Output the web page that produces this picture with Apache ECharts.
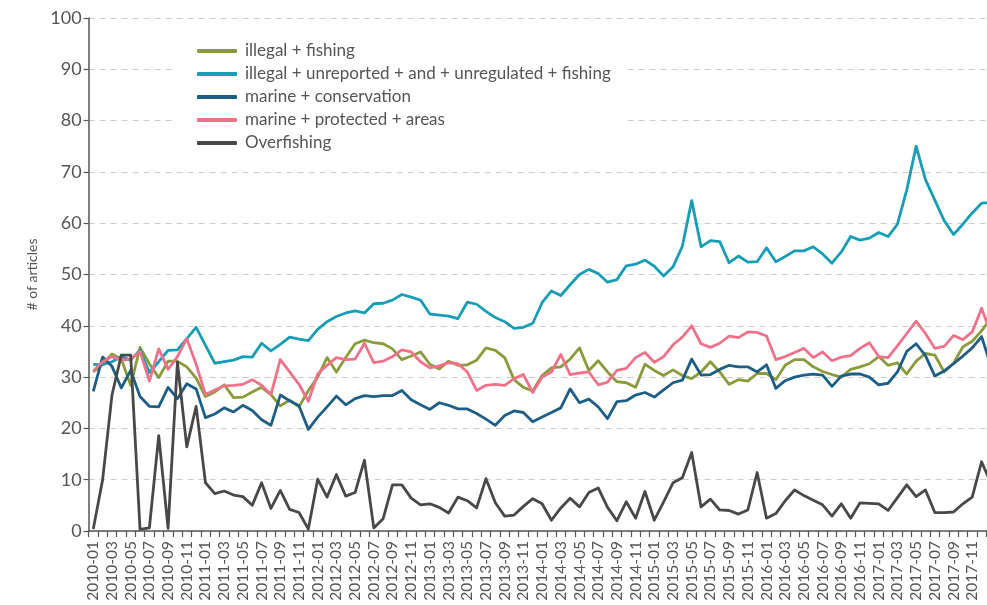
<!DOCTYPE html>
<html>
<head>
<meta charset="utf-8">
<script src="https://cdn.jsdelivr.net/npm/echarts@6/dist/echarts.min.js"></script>
<style>
html,body{margin:0;padding:0;background:#fff;overflow:hidden;width:987px;height:605px;}
#chart{width:996px;height:605px;}
</style>
</head>
<body>
<div id="chart"></div>
<script>
const categories = [
'2010-01','2010-02','2010-03','2010-04','2010-05','2010-06','2010-07','2010-08','2010-09','2010-10','2010-11','2010-12',
'2011-01','2011-02','2011-03','2011-04','2011-05','2011-06','2011-07','2011-08','2011-09','2011-10','2011-11','2011-12',
'2012-01','2012-02','2012-03','2012-04','2012-05','2012-06','2012-07','2012-08','2012-09','2012-10','2012-11','2012-12',
'2013-01','2013-02','2013-03','2013-04','2013-05','2013-06','2013-07','2013-08','2013-09','2013-10','2013-11','2013-12',
'2014-01','2014-02','2014-03','2014-04','2014-05','2014-06','2014-07','2014-08','2014-09','2014-10','2014-11','2014-12',
'2015-01','2015-02','2015-03','2015-04','2015-05','2015-06','2015-07','2015-08','2015-09','2015-10','2015-11','2015-12',
'2016-01','2016-02','2016-03','2016-04','2016-05','2016-06','2016-07','2016-08','2016-09','2016-10','2016-11','2016-12',
'2017-01','2017-02','2017-03','2017-04','2017-05','2017-06','2017-07','2017-08','2017-09','2017-10','2017-11','2017-12',
'2018-01'
];

const illegalFishing = [
31.0, 32.5, 34.5, 33.5, 28.4, 35.8, 32.6, 29.9, 33.1, 33.1, 32.0, 29.8, 26.2, 27.1, 28.5, 26.0,
26.1, 27.1, 28.0, 26.6, 24.4, 25.5, 24.2, 27.4, 30.0, 33.8, 31.0, 33.8, 36.5, 37.2, 36.7, 36.5,
35.5, 33.4, 34.1, 34.9, 32.5, 31.6, 33.1, 32.3, 32.4, 33.3, 35.7, 35.2, 33.8, 29.5, 28.0, 27.3,
30.3, 31.8, 32.0, 33.5, 35.7, 31.3, 33.2, 31.0, 29.1, 28.9, 28.0, 32.5, 31.3, 30.3, 31.4, 30.3,
29.7, 31.0, 33.0, 31.0, 28.6, 29.5, 29.2, 30.7, 30.7, 29.5, 32.3, 33.4, 33.4, 32.0, 31.1, 30.5,
30.0, 31.5, 32.0, 32.6, 34.0, 32.3, 32.8, 30.6, 33.1, 34.6, 34.3, 31.0, 32.7, 35.9, 37.0, 39.0, 41.5
];

const iuuFishing = [
32.5, 32.4, 33.0, 34.0, 33.3, 35.3, 30.9, 33.0, 35.2, 35.3, 37.5, 39.7, 36.2, 32.7, 33.0, 33.3,
34.0, 33.9, 36.6, 35.1, 36.4, 37.8, 37.4, 37.1, 39.3, 40.8, 41.8, 42.5, 42.9, 42.5, 44.3, 44.4,
45.0, 46.1, 45.6, 45.0, 42.3, 42.1, 41.9, 41.4, 44.6, 44.2, 42.8, 41.6, 40.8, 39.5, 39.7, 40.5,
44.5, 46.8, 45.9, 48.0, 50.0, 51.0, 50.2, 48.5, 49.0, 51.7, 52.0, 52.8, 51.6, 49.7, 51.5, 55.5, 64.4,
55.4, 56.6, 56.4, 52.3, 53.6, 52.4, 52.5, 55.2, 52.5, 53.5, 54.6, 54.6, 55.4, 54.0, 52.2,
54.4, 57.4, 56.7, 57.1, 58.2, 57.4, 59.8, 66.5, 75.0, 68.5, 64.5, 60.5, 57.8, 59.8, 62.0, 63.9, 64.0
];

const marineConservation = [
27.2, 33.9, 32.1, 27.9, 31.3, 26.2, 24.3, 24.2, 28.0, 25.8, 28.7, 27.7, 22.1, 22.8, 24.0, 23.2,
24.5, 23.5, 21.7, 20.6, 26.5, 25.4, 24.4, 19.8, 22.2, 24.2, 26.3, 24.6, 25.8, 26.4, 26.2, 26.4,
26.4, 27.4, 25.6, 24.6, 23.7, 25.0, 24.5, 23.8, 23.8, 22.9, 21.8, 20.6, 22.5, 23.4, 23.1, 21.3,
22.2, 23.1, 24.0, 27.7, 25.0, 25.7, 24.2, 21.9, 25.2, 25.4, 26.5, 27.0, 26.1, 27.5, 28.9, 29.4,
33.5, 30.4, 30.5, 31.5, 32.3, 32.0, 32.0, 31.0, 32.4, 27.8, 29.3, 30.0, 30.4, 30.6, 30.4, 28.2,
30.2, 30.6, 30.6, 30.0, 28.5, 28.8, 31.0, 35.0, 36.5, 34.2, 30.2, 31.2, 32.6, 34.1, 35.7, 37.9, 32.2
];

const marineProtectedAreas = [
31.2, 33.0, 34.0, 33.3, 33.5, 35.0, 29.2, 35.5, 31.5, 34.0, 37.5, 32.5, 26.6, 27.5, 28.3, 28.4,
28.6, 29.5, 28.4, 26.6, 33.4, 31.0, 28.6, 25.3, 30.6, 32.3, 33.8, 33.4, 33.5, 36.6, 32.8, 33.1,
34.0, 35.3, 34.9, 33.0, 31.8, 32.2, 32.8, 32.6, 31.0, 27.4, 28.4, 28.6, 28.4, 29.7, 30.5, 27.0,
30.0, 31.0, 34.4, 30.5, 30.8, 31.0, 28.5, 29.0, 31.3, 31.7, 33.8, 34.8, 32.9, 34.0, 36.3, 37.8,
40.0, 36.5, 35.8, 36.6, 38.0, 37.7, 38.8, 38.7, 38.0, 33.4, 34.0, 34.8, 35.6, 33.8, 34.9, 33.2,
33.9, 34.2, 35.6, 36.7, 34.0, 33.8, 36.1, 38.5, 40.9, 38.5, 35.6, 36.0, 38.1, 37.3, 38.8, 43.4, 38.5
];

const overfishing = [
0.4, 10.0, 26.5, 34.3, 34.3, 0.3, 0.6, 18.6, 0.5, 32.9, 16.4, 24.3, 9.4, 7.3, 7.8, 7.0,
6.7, 5.0, 9.4, 4.4, 7.9, 4.2, 3.6, 0.4, 10.1, 6.6, 11.0, 6.8, 7.5, 13.8, 0.6, 2.4,
9.0, 9.0, 6.4, 5.1, 5.3, 4.6, 3.5, 6.6, 5.9, 4.5, 10.2, 5.5, 2.9, 3.1, 4.8, 6.3,
5.3, 2.1, 4.5, 6.4, 4.7, 7.5, 8.4, 4.6, 2.0, 5.7, 2.5, 7.7, 2.1, 5.7, 9.4, 10.4, 15.3,
4.7, 6.2, 4.1, 4.0, 3.3, 4.1, 11.4, 2.5, 3.4, 5.9, 8.0, 6.9, 6.0, 5.1, 2.9,
5.3, 2.5, 5.5, 5.4, 5.3, 4.0, 6.5, 9.0, 6.7, 8.0, 3.6, 3.6, 3.7, 5.3, 6.6, 13.5, 9.3
];

const seriesNames = [
'illegal + fishing',
'illegal + unreported + and + unregulated + fishing',
'marine + conservation',
'marine + protected + areas',
'Overfishing'
];
const seriesColors = ['#8b9a3b', '#179db6', '#1d5e86', '#f0718a', '#484848'];
const seriesData = [illegalFishing, iuuFishing, marineConservation, marineProtectedAreas, overfishing];

const FONT = 'Lato, "Open Sans", sans-serif';
const chart = echarts.init(document.getElementById('chart'), null, {renderer: 'canvas'});

chart.setOption({
  animation: false,
  backgroundColor: '#fff',
  textStyle: {fontFamily: FONT},
  grid: {left: 88.6, right: 0.4, top: 18, bottom: 74, containLabel: false},
  legend: {
    orient: 'vertical',
    left: 175,
    top: 36,
    backgroundColor: '#fff',
    padding: [6, 14, 8, 22],
    itemWidth: 40,
    itemHeight: 4,
    itemGap: 5,
    icon: 'roundRect',
    textStyle: {fontSize: 17, color: '#555', fontFamily: FONT, lineHeight: 18, padding: [0, 0, 0, 3]},
    data: seriesNames
  },
  xAxis: {
    type: 'category',
    data: categories,
    boundaryGap: true,
    axisLine: {show: true, lineStyle: {color: '#555', width: 1.5}},
    axisTick: {show: true, interval: 0, length: 6, lineStyle: {color: '#555', width: 1.2}},
    axisLabel: {
      interval: function (index) { return index % 2 === 0 && index < categories.length - 1; },
      rotate: 90, fontSize: 15.5, color: '#555', margin: 10, fontFamily: FONT
    },
    splitLine: {show: false}
  },
  yAxis: {
    type: 'value',
    min: 0,
    max: 100,
    interval: 10,
    name: '# of articles',
    nameLocation: 'middle',
    nameRotate: 90,
    nameGap: 49,
    nameTextStyle: {fontSize: 14, color: '#555', fontFamily: FONT},
    axisLine: {show: true, lineStyle: {color: '#555', width: 1.5}},
    axisTick: {show: true, length: 5, lineStyle: {color: '#555', width: 1.2}},
    axisLabel: {fontSize: 18, color: '#555', margin: 7, fontFamily: FONT},
    splitLine: {show: true, lineStyle: {color: '#cccccc', width: 1, type: [6, 5]}}
  },
  series: seriesNames.map((name, k) => ({
    name: name,
    type: 'line',
    data: seriesData[k],
    showSymbol: false,
    symbol: 'none',
    smooth: false,
    color: seriesColors[k],
    lineStyle: {color: seriesColors[k], width: 2.8, join: 'round'},
    emphasis: {disabled: true}
  }))
});
</script>
</body>
</html>
